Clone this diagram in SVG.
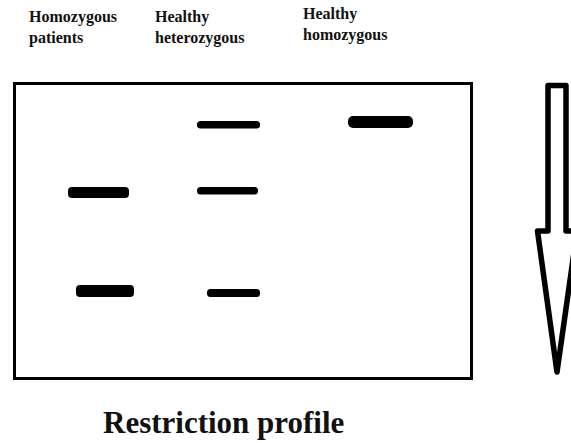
<svg xmlns="http://www.w3.org/2000/svg" width="571" height="443" viewBox="0 0 571 443">
<style>
.lbl{font-family:"Liberation Serif","Times New Roman",serif;font-weight:bold;font-size:16px;fill:#111}
.title{font-family:"Liberation Serif","Times New Roman",serif;font-weight:bold;font-size:31px;fill:#111}
.band{fill:#000}
</style>
<rect width="571" height="443" fill="#fff"/>
<g id="labels">
<text class="lbl" x="29" y="22">Homozygous</text>
<text class="lbl" x="29" y="43">patients</text>
<text class="lbl" x="155" y="22">Healthy</text>
<text class="lbl" x="155" y="43">heterozygous</text>
<text class="lbl" x="303" y="19">Healthy</text>
<text class="lbl" x="303" y="40">homozygous</text>
</g>
<g id="gel">
<rect x="14.5" y="83.5" width="457" height="295" fill="none" stroke="#000" stroke-width="3"/>
</g>
<g id="lane1">
<rect class="band" x="68" y="187" width="61" height="11" rx="4"/>
<rect class="band" x="76" y="285" width="58" height="12" rx="4"/>
</g>
<g id="lane2">
<rect class="band" x="197" y="121" width="63" height="7.5" rx="3.5"/>
<rect class="band" x="197" y="187" width="61" height="7.5" rx="3.5"/>
<rect class="band" x="207" y="289" width="53" height="8" rx="3.5"/>
</g>
<g id="lane3">
<rect class="band" x="348" y="116" width="65" height="12" rx="5"/>
</g>
<g id="arrow">
<polygon points="548,85.5 566,85.5 566,231 577,231 557,372 537.5,231 548,231" fill="#fff" stroke="#000" stroke-width="5.5" stroke-linejoin="round"/>
</g>
<g id="caption">
<text class="title" x="103" y="433">Restriction profile</text>
</g>
</svg>
